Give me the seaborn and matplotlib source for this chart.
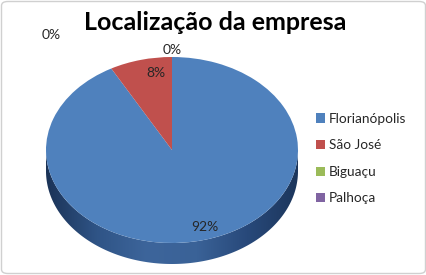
import numpy as np
import matplotlib
matplotlib.use("Agg")
import matplotlib.pyplot as plt
import seaborn as sns
from matplotlib.patches import Polygon, FancyBboxPatch
from matplotlib.colors import LinearSegmentedColormap

categories = ["Florianópolis", "São José", "Biguaçu", "Palhoça"]
values = [92, 8, 0, 0]
colors = ["#4F81BD", "#C0504D", "#9BBB59", "#8064A2"]
title = "Localização da empresa"

sns.set_style("white")
plt.rcParams['font.family'] = ['Lato', 'DejaVu Sans']

W, H = 427, 275
fig = plt.figure(figsize=(W / 100, H / 100), dpi=100)

# pie geometry in pixels
cx, cy, rx, ry, depth = 172, 150, 126, 93, 21
ax = fig.add_axes([(cx - rx) / W, (H - (cy + ry + depth)) / H,
                   2 * rx / W, (2 * ry + depth) / H])

palette = sns.color_palette(colors)
wedges, _, autotexts = ax.pie(values, colors=palette, startangle=90, counterclock=False,
                              autopct='%1.0f%%', pctdistance=0.86,
                              wedgeprops=dict(linewidth=0, edgecolor='none', zorder=3),
                              textprops=dict(fontsize=10, color='#262626'))
for w in wedges:
    w.set_zorder(3)
ax.set_aspect('auto')
d = depth / ry
ax.set_xlim(-1, 1)
ax.set_ylim(-1 - d, 1)
ax.axis('off')

# 3D side
t = np.linspace(np.pi, 2 * np.pi, 200)
top = np.column_stack([np.cos(t), np.sin(t)])
bot = np.column_stack([np.cos(t[::-1]), np.sin(t[::-1]) - d])
side = Polygon(np.vstack([top, bot]), closed=True, facecolor='none', edgecolor='none')
ax.add_patch(side)
cmap = LinearSegmentedColormap.from_list("side", ['#1b3357', '#2f5486', '#3d659b', '#3a6297', '#28497a', '#1c365c'])
grad = np.linspace(0, 1, 256).reshape(1, -1)
im = ax.imshow(grad, cmap=cmap, extent=[-1, 1, -1 - d, 0], aspect='auto', zorder=1,
               interpolation='bilinear')
im.set_clip_path(side)
ax.set_xlim(-1, 1)
ax.set_ylim(-1 - d, 1)

# percentage labels
for txt in autotexts:
    txt.set_zorder(5)
autotexts[2].set_position((0.0, 1.08))
autotexts[3].set_position((-0.96, 1.24))
autotexts[0].set_position((0.26, -0.83))
autotexts[1].set_position((-0.13, 0.83))

# title
fig.text(215 / W, 1 - 22 / H, title, ha='center', va='center', fontsize=18,
         fontweight='bold', color='black')

# legend
ax.legend(wedges, categories, loc='upper left', bbox_to_anchor=(309 / W, 1 - 106 / H),
          bbox_transform=fig.transFigure, frameon=False, fontsize=9.8,
          handlelength=0.65, handleheight=0.65, handletextpad=0.3, labelspacing=1.07,
          borderpad=0)

# chart border
border = FancyBboxPatch((1.5 / W, 1.5 / H), 1 - 3 / W, 1 - 3 / H,
                        boxstyle="round,pad=0,rounding_size=0.015",
                        transform=fig.transFigure, facecolor='none',
                        edgecolor='#d0d0d0', linewidth=1)
fig.patches.append(border)

fig.savefig("out.png", dpi=100)
